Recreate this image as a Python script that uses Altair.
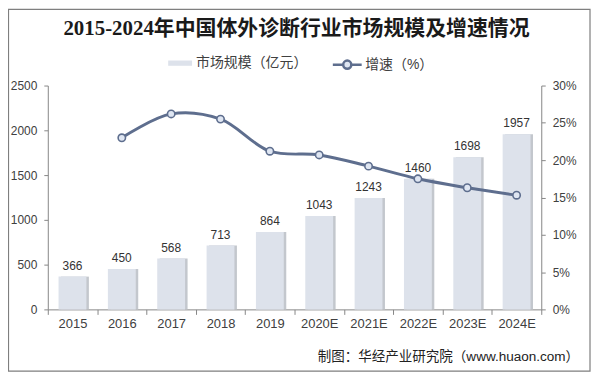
import altair as alt
import pandas as pd

years = ["2015", "2016", "2017", "2018", "2019", "2020E", "2021E", "2022E", "2023E", "2024E"]
market = [366, 450, 568, 713, 864, 1043, 1243, 1460, 1698, 1957]
growth = [None, 23.0, 26.2, 25.5, 21.2, 20.7, 19.2, 17.5, 16.3, 15.3]

title_text = "2015-2024年中国体外诊断行业市场规模及增速情况"
bar_name = "市场规模（亿元）"
line_name = "增速（%）"
source_text = "制图：华经产业研究院（www.huaon.com）"

df = pd.DataFrame({"year": years, "market": market, "growth": growth})
df["s_bar"] = bar_name
line_df = df.dropna().copy()
line_df["s_line"] = line_name

W, H = 496, 225
LATIN = "Liberation Sans, Arial, Noto Sans CJK SC, sans-serif"
CJK = "Liberation Sans, Noto Sans CJK SC, sans-serif"
TXT = "#404040"
AX = "#868686"
BAR = "#DDE2EB"
SHADOW = "#C3C7CD"
LINE = "#5E6E8E"
PT = "#DFE6F2"

x_enc = alt.X(
    "year:N", sort=years, title=None,
    scale=alt.Scale(paddingInner=0, paddingOuter=0),
    axis=alt.Axis(labelAngle=0, tickBand="extent", tickSize=5, labelPadding=3,
                  labelFont=LATIN, labelFontSize=13, labelColor=TXT,
                  domainColor=AX, tickColor=AX, grid=False),
)

y_left = alt.Y(
    "market:Q", title=None,
    scale=alt.Scale(domain=[0, 2500], nice=False),
    axis=alt.Axis(values=[0, 500, 1000, 1500, 2000, 2500], format="d", tickSize=4, labelPadding=7,
                  labelFont=LATIN, labelFontSize=12, labelColor=TXT,
                  domainColor=AX, tickColor=AX, grid=False, orient="left"),
)

shadow = alt.Chart(df).mark_bar(size=28, xOffset=2.5, color=SHADOW).encode(x=x_enc, y=y_left)

bars = alt.Chart(df).mark_bar(size=28).encode(
    x=x_enc, y=y_left,
    fill=alt.Fill("s_bar:N", scale=alt.Scale(domain=[bar_name], range=[BAR]),
                  legend=alt.Legend(title=None, orient="none", legendX=121, legendY=-34.5,
                                    symbolType="M-1,-0.22H1V0.22H-1Z", symbolSize=576,
                                    symbolStrokeWidth=0, labelFont=CJK, labelFontSize=14,
                                    labelColor=TXT, labelOffset=4, padding=0)),
)

labels = alt.Chart(df).mark_text(dy=-7, baseline="alphabetic", font=LATIN, fontSize=12,
                                 color="#333333").encode(
    x=x_enc, y=y_left, text=alt.Text("market:Q"))

left = alt.layer(shadow, bars, labels)

y_right = alt.Y(
    "growth:Q", title=None,
    scale=alt.Scale(domain=[0, 30], nice=False),
    axis=alt.Axis(values=[0, 5, 10, 15, 20, 25, 30], orient="right", tickSize=4, labelPadding=7,
                  labelExpr="datum.value + '%'",
                  labelFont=LATIN, labelFontSize=12, labelColor=TXT,
                  domainColor=AX, tickColor=AX, grid=False),
)

line = alt.Chart(line_df).mark_line(interpolate="catmull-rom", strokeWidth=3).encode(
    x=x_enc, y=y_right,
    stroke=alt.Stroke("s_line:N", scale=alt.Scale(domain=[line_name], range=[LINE]),
                      legend=alt.Legend(title=None, orient="none", legendX=285, legendY=-37,
                                        symbolType="M-1,0H-0.28M0.28,0H1M-0.28,0A0.28,0.28,0,1,1,0.28,0A0.28,0.28,0,1,1,-0.28,0Z",
                                        symbolSize=841, symbolStrokeWidth=2.5,
                                        symbolFillColor=PT,
                                        labelFont=CJK, labelFontSize=14,
                                        labelColor=TXT, labelOffset=2, padding=0)),
)

points = alt.Chart(line_df).mark_point(filled=True, size=55, fill=PT, stroke=LINE,
                                       strokeWidth=1.6, opacity=1).encode(x=x_enc, y=y_right)

right = alt.layer(line, points)

one = pd.DataFrame({"k": [0]})
frame = alt.Chart(one).mark_rect(fill="transparent", stroke="#7F7F7F", strokeWidth=1.2).encode(
    x=alt.value(-39.5), x2=alt.value(545), y=alt.value(-76.5), y2=alt.value(287))

title = alt.Chart(one).mark_text(align="center", baseline="alphabetic",
                                 font="Liberation Serif, Noto Sans CJK SC, serif",
                                 fontSize=21, fontWeight="bold", color="#1a1a1a").encode(
    x=alt.value(250), y=alt.value(-51), text=alt.value(title_text))

source = alt.Chart(one).mark_text(align="right", baseline="alphabetic", font=CJK,
                                  fontSize=13.6, color="#222222").encode(
    x=alt.value(534), y=alt.value(277), text=alt.value(source_text))

chart = alt.layer(frame, title, left, right, source).resolve_scale(
    y="independent", fill="independent", stroke="independent"
).properties(
    width=W, height=H,
    autosize=alt.AutoSizeParams(type="none"),
    padding={"left": 40, "top": 77, "right": 50, "bottom": 64},
    background="white",
).configure_view(stroke=None)

chart.save("out.html", embed_options={"renderer": "svg", "actions": False})
